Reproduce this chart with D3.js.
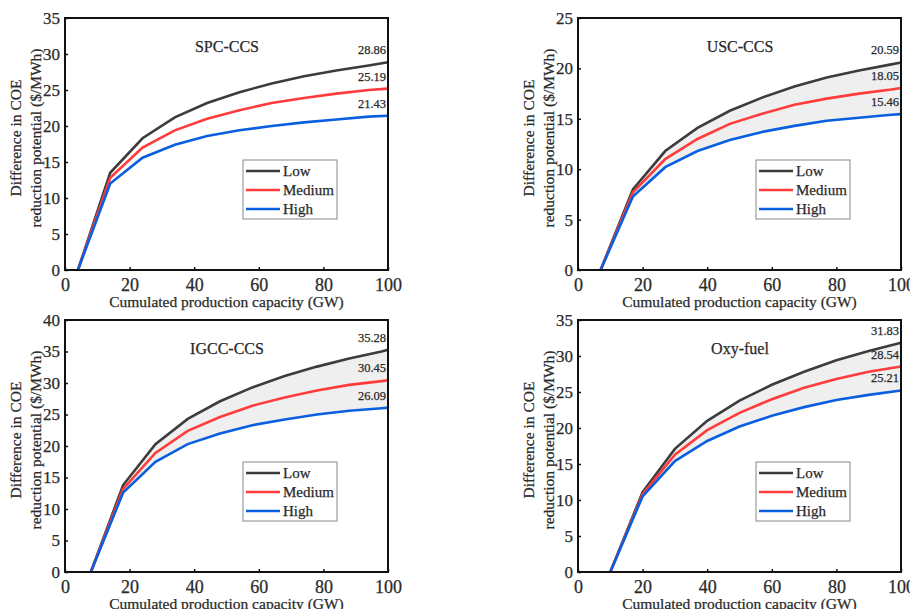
<!DOCTYPE html>
<html>
<head>
<meta charset="utf-8">
<script src="https://cdn.jsdelivr.net/npm/d3@7"></script>
<style>
  body { margin: 0; background: #fff; }
  svg, svg text { font-family: "Liberation Serif", "Tinos", "DejaVu Serif", serif !important; }
  svg text { fill: #2a2a2a; stroke: #2a2a2a; stroke-width: 0.25px; }
  .frame { fill: none; stroke: #111; stroke-width: 2; }
  .tick line { stroke: #111; stroke-width: 1.5; }
  .domain { display: none; }
</style>
</head>
<body>
<div id="graph"></div>
<script>
// x positions (GW) and series values for each technology
var spcX    = [4, 14, 24, 34, 44, 54, 64, 74, 84, 94, 100];
var spcLow  = [0, 13.5, 18.3, 21.2, 23.2, 24.7, 25.9, 26.9, 27.7, 28.4, 28.86];
var spcMed  = [0, 12.8, 17.0, 19.4, 21.0, 22.2, 23.2, 23.9, 24.5, 25.0, 25.19];
var spcHigh = [0, 12.0, 15.6, 17.4, 18.6, 19.4, 20.0, 20.5, 20.9, 21.3, 21.43];

var uscX    = [7, 17, 27, 37, 47, 57, 67, 77, 87, 97, 100];
var uscLow  = [0, 8.0, 11.8, 14.1, 15.8, 17.1, 18.2, 19.1, 19.8, 20.4, 20.59];
var uscMed  = [0, 7.7, 11.0, 13.0, 14.5, 15.5, 16.4, 17.0, 17.5, 17.9, 18.05];
var uscHigh = [0, 7.3, 10.2, 11.8, 12.9, 13.7, 14.3, 14.8, 15.1, 15.4, 15.46];

var igccX    = [8, 18, 28, 38, 48, 58, 68, 78, 88, 98, 100];
var igccLow  = [0, 13.8, 20.3, 24.3, 27.1, 29.3, 31.1, 32.6, 33.9, 35.0, 35.28];
var igccMed  = [0, 13.2, 18.9, 22.4, 24.6, 26.4, 27.7, 28.8, 29.7, 30.3, 30.45];
var igccHigh = [0, 12.6, 17.5, 20.3, 22.0, 23.3, 24.2, 25.0, 25.6, 26.0, 26.09];

var oxyX    = [10, 20, 30, 40, 50, 60, 70, 80, 90, 100];
var oxyLow  = [0, 11.1, 17.1, 21.0, 23.8, 26.0, 27.8, 29.4, 30.7, 31.83];
var oxyMed  = [0, 10.8, 16.3, 19.7, 22.1, 24.0, 25.6, 26.8, 27.8, 28.54];
var oxyHigh = [0, 10.5, 15.4, 18.2, 20.2, 21.7, 22.9, 23.9, 24.6, 25.21];

var seriesNames = ["Low", "Medium", "High"];
var seriesColors = ["#3c3c3c", "#ff3b3b", "#0a5fe0"];
var xTicks = [0, 20, 40, 60, 80, 100];

var panels = [
    { title: "SPC-CCS", x: spcX, series: [spcLow, spcMed, spcHigh], yMax: 35, fill: false, left: 65, top: 18 },
    { title: "USC-CCS", x: uscX, series: [uscLow, uscMed, uscHigh], yMax: 25, fill: true, left: 578, top: 18 },
    { title: "IGCC-CCS", x: igccX, series: [igccLow, igccMed, igccHigh], yMax: 40, fill: true, left: 65, top: 320 },
    { title: "Oxy-fuel", x: oxyX, series: [oxyLow, oxyMed, oxyHigh], yMax: 35, fill: true, left: 578, top: 320 }
];

var width = 910, height = 609,
    plotW = 323, plotH = 252,
    serif = '"Liberation Serif", "Tinos", "DejaVu Serif", serif';

var svg = d3.select('#graph')
    .append('svg')
    .attr('width', width)
    .attr('height', height)
    .attr('font-family', serif);

panels.forEach(function(p) {
    var g = svg.append('g')
        .attr('transform', 'translate(' + p.left + ',' + p.top + ')');

    var x = d3.scaleLinear().domain([0, 100]).range([0, plotW]);
    var y = d3.scaleLinear().domain([0, p.yMax]).range([plotH, 0]);

    // shaded band between low and high
    if (p.fill) {
        var area = d3.area()
            .x(function(d, i) { return x(p.x[i]); })
            .y0(function(d, i) { return y(p.series[2][i]); })
            .y1(function(d) { return y(d); });
        g.append('path')
            .datum(p.series[0])
            .attr('d', area)
            .attr('fill', '#efefef');
    }

    var line = d3.line()
        .x(function(d, i) { return x(p.x[i]); })
        .y(function(d) { return y(d); });

    p.series.forEach(function(s, k) {
        g.append('path')
            .datum(s)
            .attr('d', line)
            .attr('fill', 'none')
            .attr('stroke', seriesColors[k])
            .attr('stroke-width', 2.6);

        // end value label
        var last = s[s.length - 1];
        g.append('text')
            .attr('x', x(100) - 2)
            .attr('y', y(last) - 8)
            .attr('text-anchor', 'end')
            .style('font-size', '12.5px')
            .text(last.toFixed(2));
    });

    // axes with inward ticks
    var ax = g.append('g')
        .attr('transform', 'translate(0,' + plotH + ')')
        .call(d3.axisBottom(x).tickValues(xTicks).tickSize(-3).tickPadding(8));
    ax.attr('font-family', serif);
    ax.selectAll('text')
        .style('font-size', '18px')
        .attr('dy', '0.71em');

    var ay = g.append('g')
        .call(d3.axisLeft(y).ticks(p.yMax / 5).tickSize(-3).tickPadding(5));
    ay.attr('font-family', serif);
    ay.selectAll('text')
        .style('font-size', '17px');

    g.append('rect')
        .attr('class', 'frame')
        .attr('width', plotW)
        .attr('height', plotH);

    g.append('text')
        .attr('x', 162)
        .attr('y', 34)
        .attr('text-anchor', 'middle')
        .style('font-size', '16px')
        .text(p.title);

    // axis titles
    g.append('text')
        .attr('x', plotW / 2)
        .attr('y', plotH + 37)
        .attr('text-anchor', 'middle')
        .style('font-size', '15.5px')
        .text('Cumulated production capacity (GW)');

    var yl = g.append('text')
        .attr('transform', 'translate(-44,' + (plotH / 2 - 6) + ') rotate(-90)')
        .attr('text-anchor', 'middle')
        .style('font-size', '15.5px');
    yl.append('tspan').attr('x', 0).attr('y', 0).text('Difference in COE');
    yl.append('tspan').attr('x', 0).attr('y', 20).text('reduction potential ($/MWh)');

    // legend
    var lg = g.append('g').attr('transform', 'translate(178,142)');
    lg.append('rect')
        .attr('width', 94)
        .attr('height', 59)
        .attr('fill', '#fff')
        .attr('stroke', '#888')
        .attr('stroke-width', 1);
    seriesNames.forEach(function(name, k) {
        var ly = 11 + k * 19;
        lg.append('line')
            .attr('x1', 3).attr('x2', 37)
            .attr('y1', ly).attr('y2', ly)
            .attr('stroke', seriesColors[k])
            .attr('stroke-width', 2.6);
        lg.append('text')
            .attr('x', 40)
            .attr('y', ly + 5)
            .style('font-size', '15px')
            .text(name);
    });
});
</script>
</body>
</html>
